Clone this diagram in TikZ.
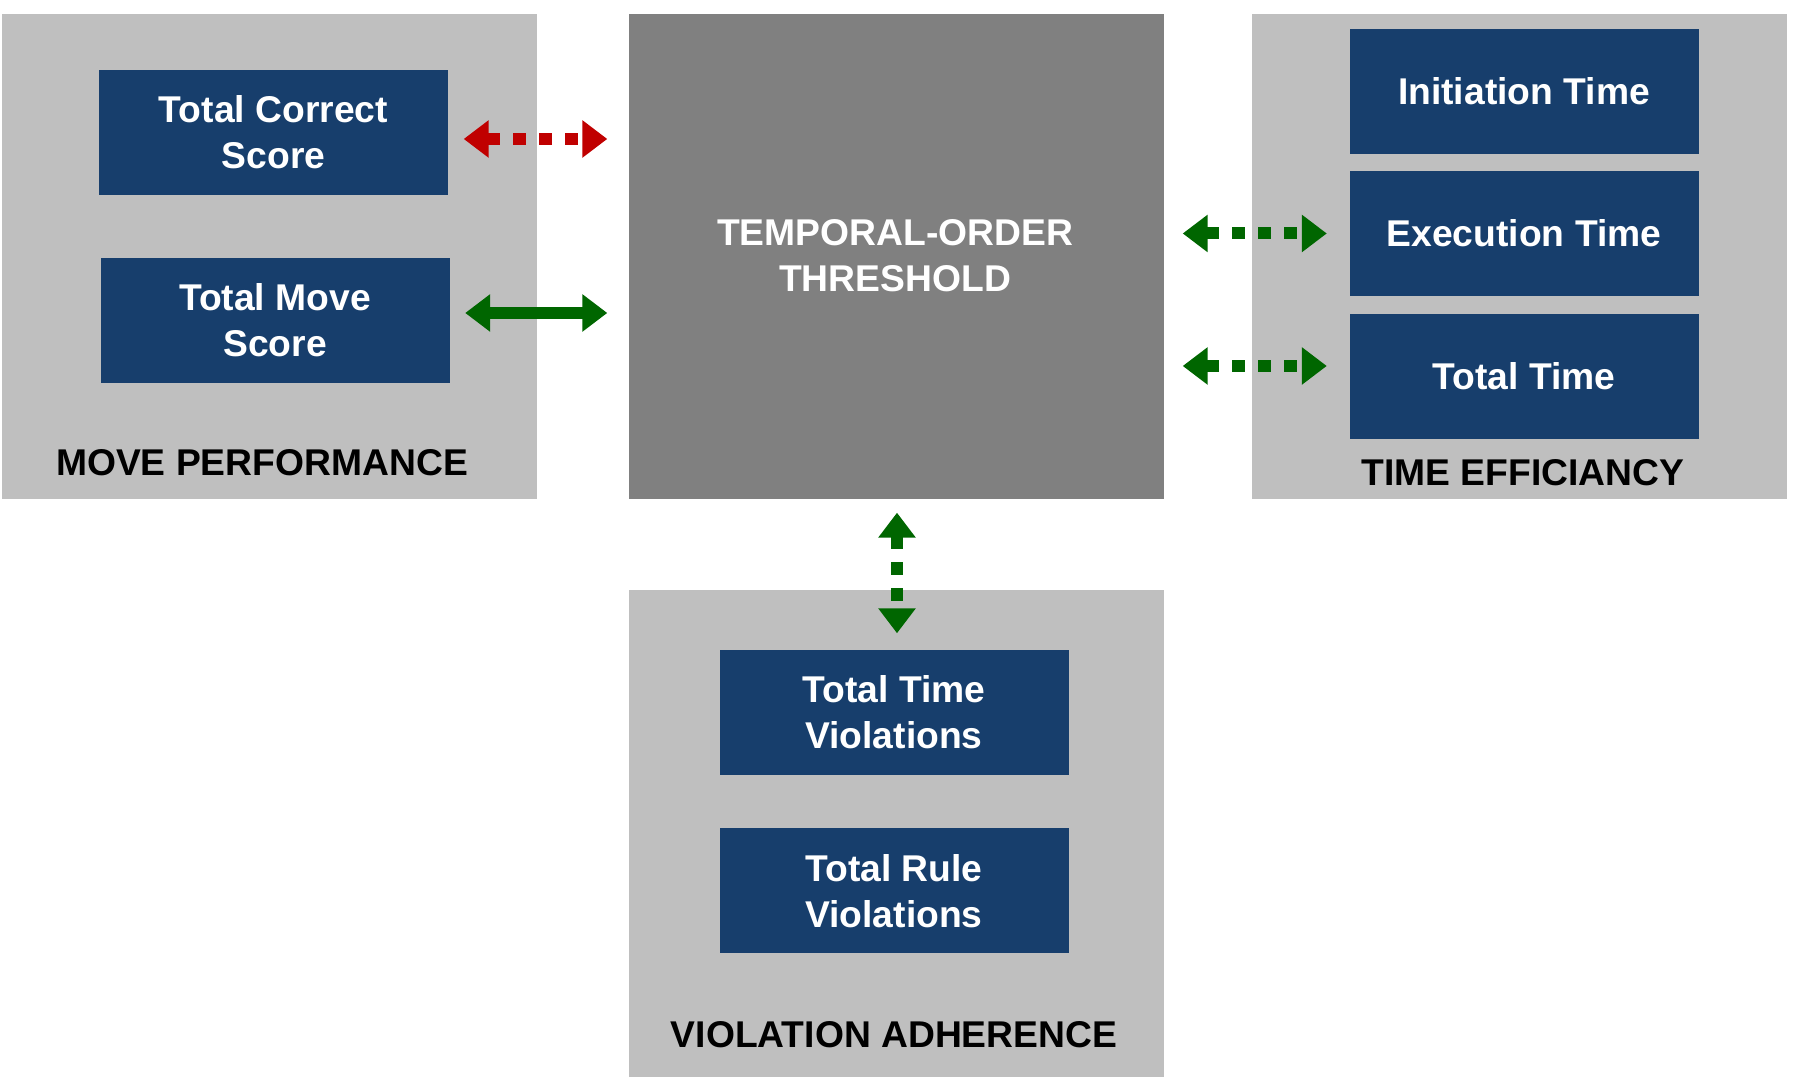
\documentclass[tikz,border=0pt]{standalone}
\usepackage{fontspec}
\setmainfont{Liberation Sans}
\usetikzlibrary{arrows.meta}
\definecolor{navy}{HTML}{173E6C}
\definecolor{panelgray}{HTML}{BFBFBF}
\definecolor{midgray}{HTML}{808080}
\definecolor{arrowred}{HTML}{C00000}
\definecolor{arrowgreen}{HTML}{006600}
\tikzset{
  group/.style={fill=panelgray,inner sep=0pt,minimum width=5.35cm,minimum height=4.85cm},
  metric/.style={fill=navy,text=white,align=center,inner sep=0pt,minimum width=3.49cm,minimum height=1.25cm,
    font=\fontsize{10.6}{13.1}\selectfont\bfseries},
  caption/.style={font=\fontsize{10.6}{13.1}\selectfont\bfseries},
  link/.style={line width=0.12cm,{Triangle[length=0.25cm,width=0.36cm]}-{Triangle[length=0.25cm,width=0.36cm]}},
  dotlink/.style={link,dash pattern=on 0.13cm off 0.13cm}
}
\begin{document}
\begin{tikzpicture}
\useasboundingbox (0,0) rectangle (18,10.92);
% panels
\node (movep) at (2.695,8.355)[group]{};
\node (thr) at (8.965,8.355)[group,fill=midgray]{};
\node (timee) at (15.19,8.355)[group]{};
\node (viol) at (8.965,2.585)[group,minimum height=4.87cm]{};
\node (thrtext) at (8.95,8.36)[text=white,align=center,caption]{TEMPORAL-ORDER\\THRESHOLD};
% metrics
\node (tcs) at (2.735,9.595)[metric]{Total Correct\\Score};
\node (tms) at (2.75,7.715)[metric]{Total Move\\Score};
\node (init) at (15.24,10.005)[metric]{Initiation Time};
\node (exec) at (15.24,8.585)[metric]{Execution Time};
\node (tott) at (15.24,7.155)[metric]{Total Time};
\node (ttv) at (8.94,3.795)[metric]{Total Time\\Violations};
\node (trv) at (8.94,2.01)[metric]{Total Rule\\Violations};
% captions
\node (mplabel) at (2.62,6.29)[caption]{MOVE PERFORMANCE};
\node (telabel) at (15.23,6.19)[caption]{TIME EFFICIANCY};
\node (valabel) at (8.94,0.57)[caption]{VIOLATION ADHERENCE};
% links
\draw[dotlink,arrowred,shorten <=0.15cm,shorten >=0.21cm] ([yshift=-0.065cm]tcs.east) -- ([yshift=-0.065cm]tcs.east -| thr.west);
\draw[link,arrowgreen,shorten <=0.15cm,shorten >=0.21cm] ([yshift=0.075cm]tms.east) -- ([yshift=0.075cm]tms.east -| thr.west);
\draw[dotlink,arrowgreen,shorten <=0.18cm,shorten >=0.22cm] (exec.west -| thr.east) -- (exec.west);
\draw[dotlink,arrowgreen,shorten <=0.18cm,shorten >=0.22cm] ([yshift=0.105cm]tott.west -| thr.east) -- ([yshift=0.105cm]tott.west);
\draw[dotlink,arrowgreen,shorten <=0.13cm,shorten >=0.16cm] ([xshift=0.005cm]thr.south) -- ([xshift=0.005cm]thr.south |- ttv.north);
\end{tikzpicture}
\end{document}
